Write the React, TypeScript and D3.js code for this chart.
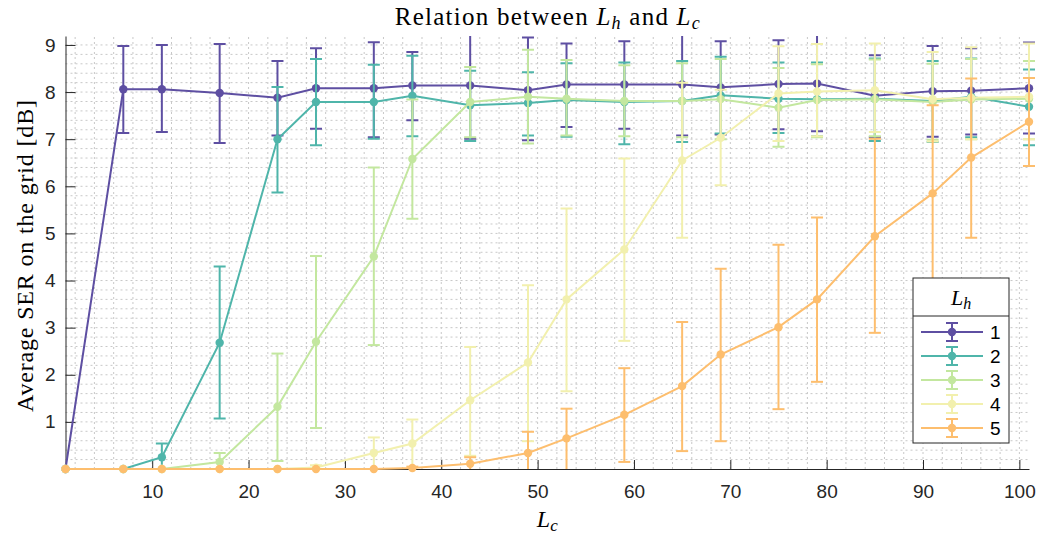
import React, { useRef, useEffect } from "react";
import * as d3 from "d3";

// L_c values on the x axis
const lcValues = [1, 7, 11, 17, 23, 27, 33, 37, 43, 49, 53, 59, 65, 69, 75, 79, 85, 91, 95, 101];

// L_h = 1
const ser1 = [0, 8.06, 8.06, 7.98, 7.88, 8.08, 8.08, 8.14, 8.14, 8.04, 8.16, 8.16, 8.16, 8.1, 8.17, 8.18, 7.92, 8.02, 8.03, 8.08];
const ser1Low = [0, 7.13, 7.15, 6.92, 7.08, 7.22, 7.04, 7.4, 7.01, 6.98, 7.26, 7.22, 7.08, 7.1, 7.21, 7.17, 7.04, 7.05, 7.1, 7.12];
const ser1High = [0, 8.98, 9.0, 9.02, 8.66, 8.93, 9.06, 8.85, 9.35, 9.16, 9.03, 9.08, 9.3, 9.08, 9.1, 9.3, 8.78, 8.98, 8.93, 9.05];

// L_h = 2
const ser2 = [0, 0, 0.25, 2.68, 7.0, 7.79, 7.79, 7.92, 7.72, 7.77, 7.83, 7.79, 7.81, 7.93, 7.86, 7.85, 7.86, 7.81, 7.9, 7.69];
const ser2Low = [0, 0, 0, 1.07, 5.87, 6.87, 7.01, 7.06, 6.96, 7.08, 7.05, 6.89, 6.94, 7.12, 7.13, 7.06, 6.96, 6.94, 7.04, 6.87];
const ser2High = [0, 0, 0.54, 4.3, 8.11, 8.7, 8.58, 8.77, 8.45, 8.42, 8.61, 8.63, 8.66, 8.75, 8.63, 8.63, 8.71, 8.66, 8.71, 8.48];

// L_h = 3
const ser3 = [0, 0, 0, 0.15, 1.32, 2.7, 4.51, 6.58, 7.79, 7.9, 7.86, 7.81, 7.81, 7.85, 7.67, 7.83, 7.85, 7.79, 7.84, 7.86];
const ser3Low = [0, 0, 0, 0, 0.17, 0.87, 2.63, 5.31, 7.04, 6.91, 7.08, 7.06, 7.04, 7.0, 6.84, 7.04, 7.06, 6.99, 7.0, 7.0];
const ser3High = [0, 0, 0, 0.34, 2.45, 4.52, 6.4, 7.84, 8.53, 8.9, 8.68, 8.57, 8.61, 8.7, 8.51, 8.59, 8.69, 8.6, 8.7, 8.66];

// L_h = 4
const ser4 = [0, 0, 0, 0, 0, 0.03, 0.34, 0.54, 1.46, 2.26, 3.6, 4.66, 6.55, 7.03, 7.97, 8.01, 8.04, 7.85, 7.88, 7.9];
const ser4Low = [0, 0, 0, 0, 0, 0, 0, 0, 0.28, 0.59, 1.65, 2.72, 4.91, 6.02, 6.96, 7.06, 7.15, 6.95, 7.0, 7.0];
const ser4High = [0, 0, 0, 0, 0, 0.08, 0.67, 1.05, 2.59, 3.9, 5.53, 6.59, 8.2, 8.05, 8.97, 9.02, 9.03, 8.85, 8.95, 9.03];

// L_h = 5
const ser5 = [0, 0, 0, 0, 0, 0, 0, 0.02, 0.11, 0.34, 0.65, 1.15, 1.76, 2.43, 3.01, 3.6, 4.94, 5.85, 6.61, 7.37];
const ser5Low = [0, 0, 0, 0, 0, 0, 0, 0, 0, 0, 0, 0.15, 0.38, 0.59, 1.27, 1.85, 2.89, 3.95, 4.91, 6.43];
const ser5High = [0, 0, 0, 0, 0, 0, 0, 0.05, 0.25, 0.79, 1.28, 2.14, 3.12, 4.25, 4.76, 5.34, 7.01, 7.72, 8.29, 8.3];

const seriesNames = ["1", "2", "3", "4", "5"];
const seriesColors = ["#5e4fa2", "#4fb5aa", "#c3e79f", "#f2f0ae", "#fdbe6e"];

const xTicks = [10, 20, 30, 40, 50, 60, 70, 80, 90, 100];
const yTicks = [1, 2, 3, 4, 5, 6, 7, 8, 9];

const App = () => {
  const svgRef = useRef<SVGSVGElement>(null);

  useEffect(() => {
    const svg = d3.select(svgRef.current);
    svg.selectAll("*").remove();

    const width = 1039;
    const height = 533;
    const left = 65.5;
    const right = 1029;
    const top = 36;
    const bottom = 469;
    svg.attr("width", width).attr("height", height);

    const x = d3.scaleLinear().domain([1, 101]).range([left, right]);
    const y = d3.scaleLinear().domain([0, 9.19]).range([bottom, top]);

    const series = [
      { mean: ser1, low: ser1Low, high: ser1High },
      { mean: ser2, low: ser2Low, high: ser2High },
      { mean: ser3, low: ser3Low, high: ser3High },
      { mean: ser4, low: ser4Low, high: ser4High },
      { mean: ser5, low: ser5Low, high: ser5High },
    ].map((s, i) => ({ ...s, name: seriesNames[i], color: seriesColors[i] }));

    svg.append("rect").attr("width", width).attr("height", height).attr("fill", "#fff");

    // clip for lines and error bars (top of axes)
    svg
      .append("defs")
      .append("clipPath")
      .attr("id", "plot-clip")
      .append("rect")
      .attr("x", left - 10)
      .attr("y", top)
      .attr("width", right - left + 20)
      .attr("height", bottom - top + 10);

    // dotted grid, minor + major
    const grid = svg.append("g").attr("stroke", "#c8c8c8").attr("stroke-dasharray", "2,3").attr("stroke-width", 1);
    const xGrid = d3.range(2, 101, 2);
    const yGrid = d3.range(1, 46).map((k) => k * 0.2);
    grid
      .selectAll("line.xg")
      .data(xGrid)
      .enter()
      .append("line")
      .attr("x1", (d) => x(d))
      .attr("x2", (d) => x(d))
      .attr("y1", bottom)
      .attr("y2", top);
    grid
      .selectAll("line.yg")
      .data(yGrid)
      .enter()
      .append("line")
      .attr("x1", left)
      .attr("x2", right + 1)
      .attr("y1", (d) => y(d))
      .attr("y2", (d) => y(d));

    // axes
    const xAxis = svg
      .append("g")
      .attr("transform", `translate(0, ${bottom})`)
      .call(d3.axisBottom(x).tickValues(xTicks).tickSizeInner(-9).tickSizeOuter(0).tickPadding(16));
    const yAxis = svg
      .append("g")
      .attr("transform", `translate(${left}, 0)`)
      .call(d3.axisLeft(y).tickValues(yTicks).tickSizeInner(-10).tickSizeOuter(0).tickPadding(10));
    [xAxis, yAxis].forEach((ax) => {
      ax.select(".domain").attr("stroke", "#262626");
      ax.selectAll(".tick line").attr("stroke", "#262626");
      ax.selectAll(".tick text")
        .attr("fill", "#262626")
        .style("font-family", "'Liberation Sans', Arial, sans-serif")
        .style("font-size", "19px");
    });

    // series: line, error bars, markers
    const line = d3
      .line<number>()
      .x((_, i) => x(lcValues[i]))
      .y((d) => y(d));

    series.forEach((s) => {
      const g = svg.append("g");
      const clipped = g.append("g").attr("clip-path", "url(#plot-clip)");
      clipped
        .append("path")
        .datum(s.mean)
        .attr("d", line)
        .attr("fill", "none")
        .attr("stroke", s.color)
        .attr("stroke-width", 2);

      const bars = lcValues
        .map((lc, i) => ({ lc, lo: s.low[i], hi: s.high[i] }))
        .filter((d) => d.hi - d.lo > 0);
      const eb = clipped
        .selectAll("g.eb")
        .data(bars)
        .enter()
        .append("g")
        .attr("stroke", s.color)
        .attr("stroke-width", 2);
      eb.append("line")
        .attr("x1", (d) => x(d.lc))
        .attr("x2", (d) => x(d.lc))
        .attr("y1", (d) => y(d.lo))
        .attr("y2", (d) => y(d.hi));
      eb.append("line")
        .attr("x1", (d) => x(d.lc) - 6)
        .attr("x2", (d) => x(d.lc) + 6)
        .attr("y1", (d) => y(d.hi))
        .attr("y2", (d) => y(d.hi));
      eb.filter((d) => d.lo > 0)
        .append("line")
        .attr("x1", (d) => x(d.lc) - 6)
        .attr("x2", (d) => x(d.lc) + 6)
        .attr("y1", (d) => y(d.lo))
        .attr("y2", (d) => y(d.lo));

      g.selectAll("circle")
        .data(s.mean)
        .enter()
        .append("circle")
        .attr("cx", (_, i) => x(lcValues[i]))
        .attr("cy", (d) => y(d))
        .attr("r", 4.2)
        .attr("fill", s.color);
    });

    const serif = "'Liberation Serif', 'Times New Roman', serif";

    // title
    const title = svg
      .append("text")
      .attr("x", (left + right) / 2)
      .attr("y", 25)
      .attr("text-anchor", "middle")
      .attr("textLength", 305)
      .style("font-family", serif)
      .style("font-size", "25px")
      .attr("fill", "#000");
    title.append("tspan").text("Relation between ");
    title.append("tspan").attr("font-style", "italic").text("L");
    title.append("tspan").attr("font-style", "italic").attr("font-size", "18px").attr("dy", 4).text("h");
    title.append("tspan").attr("dy", -4).text(" and ");
    title.append("tspan").attr("font-style", "italic").text("L");
    title.append("tspan").attr("font-style", "italic").attr("font-size", "18px").attr("dy", 4).text("c");

    // x label
    const xl = svg
      .append("text")
      .attr("x", (left + right) / 2)
      .attr("y", 526.5)
      .attr("text-anchor", "middle")
      .style("font-family", serif)
      .style("font-size", "24px");
    xl.append("tspan").attr("font-style", "italic").text("L");
    xl.append("tspan").attr("font-style", "italic").attr("font-size", "17px").attr("dy", 4).text("c");

    // y label
    svg
      .append("text")
      .attr("transform", `translate(33, 256) rotate(-90)`)
      .attr("text-anchor", "middle")
      .attr("textLength", 312)
      .style("font-family", serif)
      .style("font-size", "24px")
      .text("Average SER on the grid [dB]");

    // legend
    const lg = svg.append("g").attr("transform", "translate(913, 278)");
    lg.append("rect")
      .attr("width", 96)
      .attr("height", 165)
      .attr("fill", "#fff")
      .attr("stroke", "#262626")
      .attr("stroke-width", 1);
    lg.append("line").attr("x1", 0).attr("x2", 96).attr("y1", 38).attr("y2", 38).attr("stroke", "#262626");
    const lt = lg
      .append("text")
      .attr("x", 48)
      .attr("y", 26.5)
      .attr("text-anchor", "middle")
      .style("font-family", serif)
      .style("font-size", "22px");
    lt.append("tspan").attr("font-style", "italic").text("L");
    lt.append("tspan").attr("font-style", "italic").attr("font-size", "16px").attr("dy", 4).text("h");

    const entries = lg
      .selectAll("g.entry")
      .data(series)
      .enter()
      .append("g")
      .attr("transform", (_, i) => `translate(0, ${54 + i * 24})`);
    entries
      .append("line")
      .attr("x1", 8)
      .attr("x2", 70)
      .attr("stroke", (d) => d.color)
      .attr("stroke-width", 2);
    entries
      .append("path")
      .attr("d", "M39,-9V9M33,-9H45M33,9H45")
      .attr("stroke", (d) => d.color)
      .attr("stroke-width", 2)
      .attr("fill", "none");
    entries.append("circle").attr("cx", 39).attr("r", 4.2).attr("fill", (d) => d.color);
    entries
      .append("text")
      .attr("x", 77)
      .attr("dy", "0.36em")
      .style("font-family", "'Liberation Sans', Arial, sans-serif")
      .style("font-size", "19px")
      .attr("fill", "#000")
      .text((d) => d.name);
  }, []);

  return <svg ref={svgRef} style={{ position: "fixed", left: 0, top: 0, display: "block" }}></svg>;
};

export default App;
